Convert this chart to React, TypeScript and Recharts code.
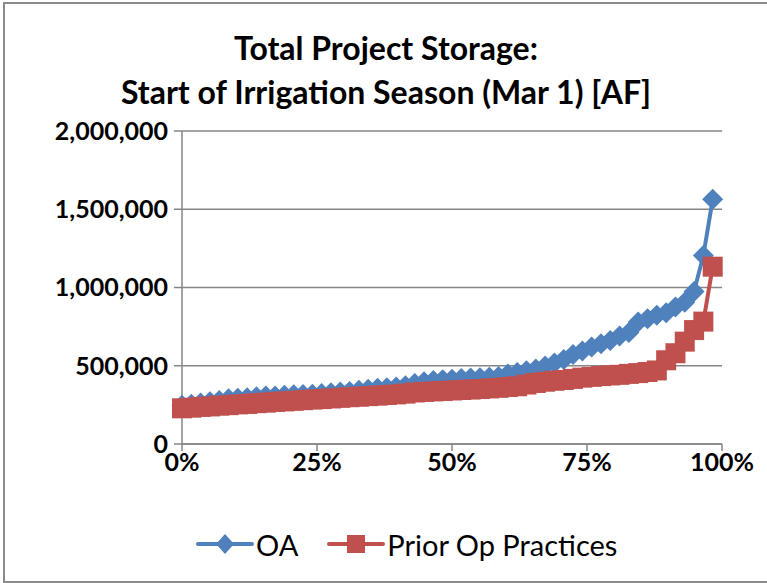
import React from "react";
import { LineChart, Line, XAxis, YAxis, CartesianGrid } from "recharts";

// exceedance fraction for each ranked year
const exceedance = [
  0, 0.0172, 0.0345, 0.0517, 0.069, 0.0862, 0.1034, 0.1207, 0.1379, 0.1552,
  0.1724, 0.1897, 0.2069, 0.2241, 0.2414, 0.2586, 0.2759, 0.2931, 0.3103, 0.3276,
  0.3448, 0.3621, 0.3793, 0.3966, 0.4138, 0.431, 0.4483, 0.4655, 0.4828, 0.5,
  0.5172, 0.5345, 0.5517, 0.569, 0.5862, 0.6034, 0.6207, 0.6379, 0.6552, 0.6724,
  0.6897, 0.7069, 0.7241, 0.7414, 0.7586, 0.7759, 0.7931, 0.8103, 0.8276, 0.8448,
  0.8621, 0.8793, 0.8966, 0.9138, 0.931, 0.9483, 0.9655, 0.9828,
];

// OA storage [AF]
const oaStorage = [
  248000, 254000, 262000, 270000, 278000, 289000, 292000, 296000, 302000, 306000,
  307000, 311000, 314000, 316000, 318000, 322000, 328000, 333000, 336000, 344000,
  350000, 357000, 360000, 364000, 372000, 386000, 398000, 405000, 410000, 414000,
  418000, 421000, 424000, 427000, 432000, 448000, 457000, 468000, 480000, 498000,
  518000, 540000, 572000, 595000, 620000, 640000, 662000, 690000, 712000, 780000,
  800000, 822000, 838000, 876000, 905000, 975000, 1205000, 1564000,
];

// Prior Op Practices storage [AF]
const priorStorage = [
  228000, 232000, 237000, 240000, 245000, 248000, 253000, 256000, 261000, 264000,
  269000, 272000, 276000, 280000, 284000, 287000, 291000, 295000, 299000, 302000,
  306000, 309000, 313000, 317000, 322000, 329000, 333000, 336000, 339000, 342000,
  345000, 348000, 351000, 355000, 359000, 364000, 369000, 380000, 390000, 398000,
  404000, 409000, 416000, 424000, 429000, 434000, 438000, 442000, 448000, 453000,
  460000, 470000, 535000, 580000, 654000, 728000, 782000, 1133000,
];

const xTicks = [0, 0.25, 0.5, 0.75, 1];
const yTicks = [0, 500000, 1000000, 1500000, 2000000];

const BLUE = "#4F81BD";
const RED = "#C0504D";
const GRID = "#868686";
const FONT = "Lato, 'Noto Sans', sans-serif";

const rows = exceedance.map((p, i) => ({ p, oa: oaStorage[i], prior: priorStorage[i] }));

const Diamond = (props: any) => {
  const { cx, cy, index } = props;
  if (cx == null || cy == null) return <g key={`d-${index}`} />;
  const r = 10.5;
  return (
    <path
      key={`d-${index}`}
      d={`M${cx},${cy - r}L${cx + r},${cy}L${cx},${cy + r}L${cx - r},${cy}Z`}
      fill={BLUE}
    />
  );
};

const Square = (props: any) => {
  const { cx, cy, index } = props;
  if (cx == null || cy == null) return <g key={`s-${index}`} />;
  const h = 10;
  return <rect key={`s-${index}`} x={cx - h} y={cy - h} width={h * 2} height={h * 2} fill={RED} />;
};

const tickStyle = { fontSize: 25, fontWeight: 700, fill: "#000", fontFamily: FONT };

export default function App() {
  return (
    <div style={{ position: "absolute", left: 0, top: 0, width: 767, height: 583, background: "#fff", overflow: "hidden", fontFamily: FONT }}>
      <div style={{ position: "absolute", left: 3, top: 2, width: 780, height: 577, border: "2px solid #8a8a8a" }} />
      <div style={{ position: "absolute", left: 0, top: 26, width: 772, textAlign: "center", fontWeight: 700, fontSize: 32, lineHeight: "44px", color: "#000" }}>
        <div>Total Project Storage:</div>
        <div>Start of Irrigation Season (Mar 1) [AF]</div>
      </div>
      <div style={{ position: "absolute", left: 0, top: 0 }}>
        <LineChart width={767} height={583} data={rows} margin={{ top: 131, right: 45, bottom: 109, left: 42 }}>
          <CartesianGrid vertical={false} stroke={GRID} strokeWidth={1.5} />
          <XAxis
            dataKey="p"
            type="number"
            domain={[0, 1]}
            ticks={xTicks}
            tickFormatter={(v: number) => `${Math.round(v * 100)}%`}
            stroke={GRID}
            strokeWidth={1.5}
            tickSize={7}
            tickMargin={2}
            height={30}
            tick={tickStyle}
            interval={0}
          />
          <YAxis
            type="number"
            domain={[0, 2000000]}
            ticks={yTicks}
            tickFormatter={(v: number) => v.toLocaleString("en-US")}
            stroke={GRID}
            strokeWidth={1.5}
            tickSize={8}
            tickMargin={6}
            width={140}
            tick={tickStyle}
            interval={0}
          />
          <Line dataKey="oa" stroke={BLUE} strokeWidth={4} dot={Diamond} activeDot={false} isAnimationActive={false} />
          <Line dataKey="prior" stroke={RED} strokeWidth={4} dot={Square} activeDot={false} isAnimationActive={false} />
        </LineChart>
      </div>
      <div style={{ position: "absolute", left: 196, top: 526, height: 36, display: "flex", alignItems: "center", fontSize: 29, color: "#000" }}>
        <svg width={58} height={24} style={{ marginRight: 2 }}>
          <line x1={2} y1={12} x2={56} y2={12} stroke={BLUE} strokeWidth={4} strokeLinecap="round" />
          <path d="M29,2L38,12L29,22L20,12Z" fill={BLUE} />
        </svg>
        <span>OA</span>
        <svg width={58} height={24} style={{ marginLeft: 29, marginRight: 2 }}>
          <line x1={2} y1={12} x2={56} y2={12} stroke={RED} strokeWidth={4} strokeLinecap="round" />
          <rect x={20} y={3} width={18} height={18} fill={RED} />
        </svg>
        <span>Prior Op Practices</span>
      </div>
    </div>
  );
}
